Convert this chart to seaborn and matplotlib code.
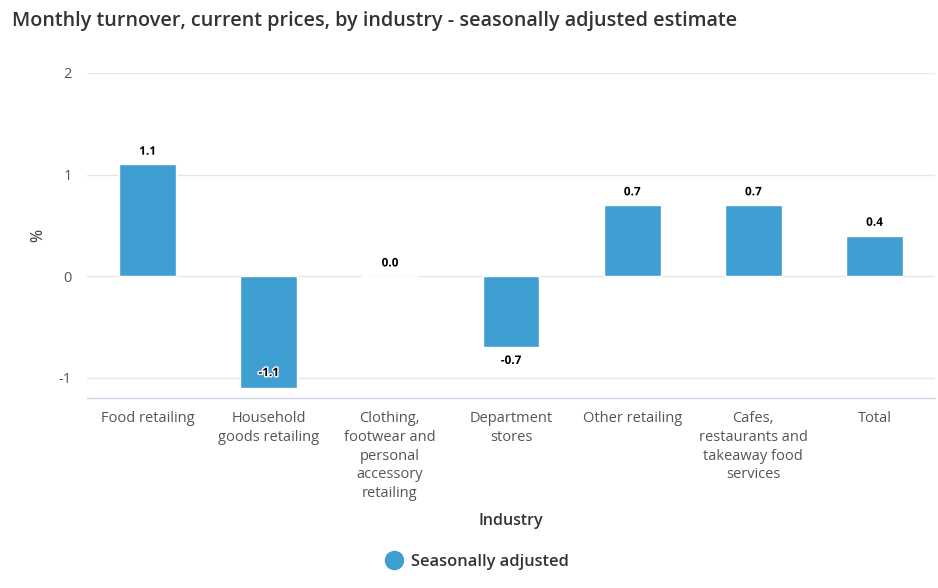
import matplotlib
matplotlib.use("Agg")
import matplotlib.pyplot as plt
import matplotlib.patheffects as pe
from matplotlib.lines import Line2D
import seaborn as sns
import pandas as pd

categories = ["Food retailing", "Household\ngoods retailing",
              "Clothing,\nfootwear and\npersonal\naccessory\nretailing",
              "Department\nstores", "Other retailing",
              "Cafes,\nrestaurants and\ntakeaway food\nservices", "Total"]
values = [1.1, -1.1, 0.0, -0.7, 0.7, 0.7, 0.4]
series_name = "Seasonally adjusted"
yticks = [-1, 0, 1, 2]

BAR = "#3f9fd3"
sns.set_theme(style="white")
plt.rcParams["font.family"] = ["Open Sans", "DejaVu Sans"]

df = pd.DataFrame({"Industry": categories, "value": values, "series": series_name})

fig = plt.figure(figsize=(9.38, 5.88), dpi=100)
ax = fig.add_axes([87/938, 1-398/588, (935-87)/938, (398-73)/588])
sns.barplot(data=df, x="Industry", y="value", hue="series", palette=[BAR],
            width=0.47, ax=ax, legend=False, saturation=1)

ymin, ymax = -1.2, 2
ax.set_ylim(ymin, ymax)
ax.set_xlim(-0.5, len(categories)-0.5)
ax.set_yticks(yticks)
ax.set_yticklabels([str(t) for t in yticks])
ax.yaxis.grid(True, color="#e6e6e6", linewidth=1)
ax.set_axisbelow(True)
for s in ["top", "right", "left"]:
    ax.spines[s].set_visible(False)
ax.spines["bottom"].set_color("#ccd6eb")
ax.spines["bottom"].set_linewidth(1)
ax.tick_params(axis="both", length=0, labelsize=10.5, labelcolor="#555555")
ax.tick_params(axis="x", pad=9.5)
ax.tick_params(axis="y", pad=11)
for lab in ax.get_xticklabels():
    lab.set_linespacing(1.34)

ax.set_xlabel("Industry", fontsize=11.5, color="#333333", fontweight="semibold")
ax.xaxis.set_label_coords(0.5, -(521-398)/325)
ax.xaxis.label.set_va("center")
ax.set_ylabel("%", fontsize=11.5, color="#333333")
ax.yaxis.set_label_coords((38-87)/848, 0.5)
ax.yaxis.label.set_va("center")

off = 0.13
for i, v in enumerate(values):
    if v >= 0:
        y = v + off
    else:
        y = v - off
        if y < ymin + 0.05:
            y = v + 0.15
    ax.text(i, y, f"{v:.1f}", ha="center", va="center", fontsize=8.5,
            fontweight="bold", color="black",
            path_effects=[pe.withStroke(linewidth=2, foreground="white")])

fig.text(12/938, 1-21/588, "Monthly turnover, current prices, by industry - seasonally adjusted estimate",
         fontsize=14.25, color="#333333", ha="left", va="center", fontweight="semibold")

handle = Line2D([0], [0], marker="o", linestyle="", markersize=13,
                markerfacecolor=BAR, markeredgecolor=BAR)
fig.legend([handle], [series_name], loc="center", bbox_to_anchor=(473/938, 1-562/588),
           frameon=False, handletextpad=0.05, labelcolor="#333333",
           prop={"weight": "semibold", "size": 11.8})

fig.savefig("out.png", dpi=100)
